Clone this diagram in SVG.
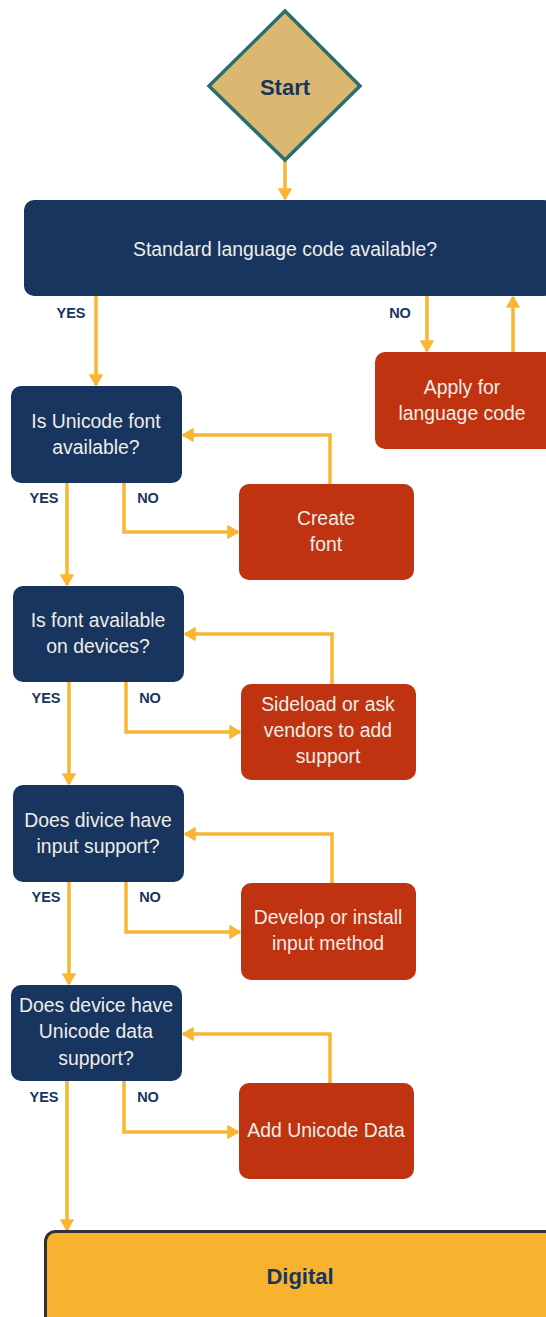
<svg xmlns="http://www.w3.org/2000/svg" width="546" height="1317" viewBox="0 0 546 1317">
<style>
.q{fill:#17355e}
.a{fill:#bf3310}
.t{font-family:"Liberation Sans",Arial,sans-serif;font-size:19.4px;fill:#f0ece8;text-anchor:middle}
.l{font-family:"Liberation Sans",Arial,sans-serif;font-size:14.5px;font-weight:bold;fill:#17355e;text-anchor:middle}
.c{fill:none;stroke:#f8b632;stroke-width:3.5;stroke-linejoin:miter}
</style>
<defs>
<marker id="ah" markerUnits="userSpaceOnUse" viewBox="0 0 12 14" refX="11" refY="7" markerWidth="12" markerHeight="14" orient="auto">
<path d="M1,1 L11,7 L1,13 Z" fill="#f8b632" stroke="#f8b632" stroke-width="1.5" stroke-linejoin="round"/>
</marker>
</defs>
<rect width="546" height="1317" fill="#ffffff"/>
<g id="connectors">
<path class="c" d="M285,161 V199" marker-end="url(#ah)"/>
<path class="c" d="M96,296 V385" marker-end="url(#ah)"/>
<path class="c" d="M427,296 V351" marker-end="url(#ah)"/>
<path class="c" d="M513,352 V297" marker-end="url(#ah)"/>
<path class="c" d="M330,484 V435 H183" marker-end="url(#ah)"/>
<path class="c" d="M124,483 V532 H238" marker-end="url(#ah)"/>
<path class="c" d="M67,483 V585" marker-end="url(#ah)"/>
<path class="c" d="M332,684 V634 H185" marker-end="url(#ah)"/>
<path class="c" d="M126,682 V732 H240" marker-end="url(#ah)"/>
<path class="c" d="M69,682 V784" marker-end="url(#ah)"/>
<path class="c" d="M332,883 V834 H185" marker-end="url(#ah)"/>
<path class="c" d="M126,882 V932 H240" marker-end="url(#ah)"/>
<path class="c" d="M69,882 V984" marker-end="url(#ah)"/>
<path class="c" d="M330,1083 V1034 H183" marker-end="url(#ah)"/>
<path class="c" d="M124,1081 V1132 H238" marker-end="url(#ah)"/>
<path class="c" d="M67,1081 V1230" marker-end="url(#ah)"/>
</g>
<g id="labels">
<text class="l" x="71" y="318">YES</text>
<text class="l" x="400" y="318">NO</text>
<text class="l" x="44" y="503">YES</text>
<text class="l" x="148" y="503">NO</text>
<text class="l" x="46" y="703">YES</text>
<text class="l" x="150" y="703">NO</text>
<text class="l" x="46" y="902">YES</text>
<text class="l" x="150" y="902">NO</text>
<text class="l" x="44" y="1102">YES</text>
<text class="l" x="148" y="1102">NO</text>
</g>
<g id="start">
<polygon points="285,11 360,86 285,160 209,86" fill="#dbb872" stroke="#2b6e6e" stroke-width="3.5" stroke-linejoin="miter"/>
<text x="285" y="95" font-family="'Liberation Sans',Arial,sans-serif" font-size="22" font-weight="bold" fill="#17355e" text-anchor="middle">Start</text>
</g>
<g id="q1">
<rect class="q" x="24" y="200" width="530" height="96" rx="10"/>
<text class="t" x="285" y="256">Standard language code available?</text>
</g>
<g id="a1">
<rect class="a" x="375" y="352" width="180" height="97" rx="10"/>
<text class="t" x="462" y="394">Apply for</text>
<text class="t" x="462" y="420">language code</text>
</g>
<g id="q2">
<rect class="q" x="11" y="386" width="171" height="97" rx="10"/>
<text class="t" x="96" y="428">Is Unicode font</text>
<text class="t" x="96" y="454">available?</text>
</g>
<g id="a2">
<rect class="a" x="239" y="484" width="175" height="96" rx="10"/>
<text class="t" x="326" y="525">Create</text>
<text class="t" x="326" y="551">font</text>
</g>
<g id="q3">
<rect class="q" x="13" y="586" width="171" height="96" rx="10"/>
<text class="t" x="98" y="627">Is font available</text>
<text class="t" x="98" y="653">on devices?</text>
</g>
<g id="a3">
<rect class="a" x="241" y="684" width="175" height="96" rx="10"/>
<text class="t" x="328" y="711">Sideload or ask</text>
<text class="t" x="328" y="737">vendors to add</text>
<text class="t" x="328" y="763">support</text>
</g>
<g id="q4">
<rect class="q" x="13" y="785" width="171" height="97" rx="10"/>
<text class="t" x="98" y="827">Does divice have</text>
<text class="t" x="98" y="853">input support?</text>
</g>
<g id="a4">
<rect class="a" x="241" y="883" width="175" height="97" rx="10"/>
<text class="t" x="328" y="924">Develop or install</text>
<text class="t" x="328" y="950">input method</text>
</g>
<g id="q5">
<rect class="q" x="11" y="985" width="171" height="96" rx="10"/>
<text class="t" x="96" y="1012">Does device have</text>
<text class="t" x="96" y="1038">Unicode data</text>
<text class="t" x="96" y="1065">support?</text>
</g>
<g id="a5">
<rect class="a" x="239" y="1083" width="175" height="96" rx="10"/>
<text class="t" x="326" y="1137">Add Unicode Data</text>
</g>
<g id="digital">
<rect x="45.5" y="1231.5" width="520" height="110" rx="10" fill="#f7b330" stroke="#333333" stroke-width="3"/>
<text x="300" y="1284" font-family="'Liberation Sans',Arial,sans-serif" font-size="22" font-weight="bold" fill="#17355e" text-anchor="middle">Digital</text>
</g>
</svg>
